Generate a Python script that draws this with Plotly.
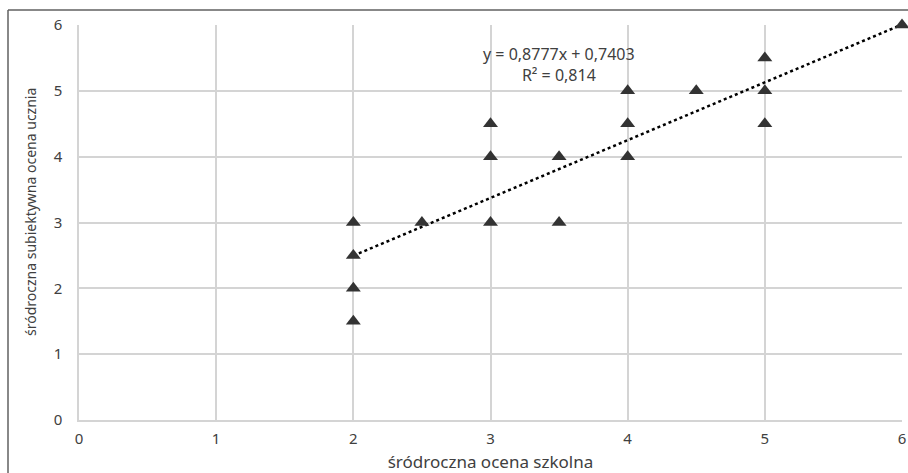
import plotly.graph_objects as go

school_grade = [2, 2, 2, 2, 2.5, 3, 3, 3, 3.5, 3.5, 4, 4, 4, 4.5, 5, 5, 5, 6]
subjective_grade = [3, 2.5, 2, 1.5, 3, 4.5, 4, 3, 4, 3, 5, 4.5, 4, 5, 5.5, 5, 4.5, 6]
slope = 0.8777
intercept = 0.7403
r_squared = 0.814
x_ticks = [0, 1, 2, 3, 4, 5, 6]
y_ticks = [0, 1, 2, 3, 4, 5, 6]
x_title = "śródroczna ocena szkolna"
y_title = "śródroczna subiektywna ocena ucznia"

font_family = "Noto Sans"
text_color = "#404040"
grid_color = "#d4d4d4"

W, H = 908, 473
ML, MR, MT, MB = 79, 6, 25, 53
PW, PH = W - ML - MR, H - MT - MB

x_min, x_max = min(school_grade), max(school_grade)
trend_x = [x_min, x_max]
trend_y = [slope * v + intercept for v in trend_x]

fig = go.Figure()
fig.add_trace(go.Scatter(
    x=trend_x, y=trend_y, mode="lines",
    line=dict(color="black", width=2.5, dash="dot"),
    hoverinfo="skip", showlegend=False, cliponaxis=False,
))
fig.add_trace(go.Scatter(
    x=school_grade, y=subjective_grade, mode="markers",
    marker=dict(symbol="triangle-up", size=13, color="#333333"),
    showlegend=False, cliponaxis=False,
))

fmt = lambda v, d: f"{v:.{d}f}".replace(".", ",")
eq_text = f"y = {fmt(slope, 4)}x + {fmt(intercept, 4)}<br>R² = {fmt(r_squared, 3)}"
fig.add_annotation(
    x=3.5, y=5.4, xref="x", yref="y", text=eq_text, showarrow=False,
    font=dict(family=font_family, size=16, color=text_color), align="center",
)

# y-axis title placed as an annotation (slightly above plot centre, as in reference)
fig.add_annotation(
    x=-(ML - 30) / PW, y=(PH + MT - 212) / PH, xref="paper", yref="paper",
    text=y_title, textangle=-90, showarrow=False, xanchor="center", yanchor="middle",
    font=dict(family=font_family, size=14, color=text_color),
)

# outer chart frame (left and top edges visible)
fx = -(ML - 8) / PW
fy = (PH + MT - 10) / PH
fig.add_shape(type="line", xref="paper", yref="paper",
              x0=fx, x1=fx, y0=fy, y1=-MB / PH - 0.05,
              line=dict(color="#606060", width=1.5))
fig.add_shape(type="line", xref="paper", yref="paper",
              x0=fx, x1=1 + MR / PW + 0.05, y0=fy, y1=fy,
              line=dict(color="#606060", width=1.5))

fig.update_layout(
    width=W, height=H,
    margin=dict(l=ML, r=MR, t=MT, b=MB),
    paper_bgcolor="white", plot_bgcolor="white",
    font=dict(family=font_family, size=15, color=text_color),
    xaxis=dict(
        range=[0, 6], tickvals=x_ticks, ticktext=[str(v) for v in x_ticks],
        showgrid=True, gridcolor=grid_color, gridwidth=1.5,
        showline=True, linecolor=grid_color, linewidth=1.5, zeroline=False,
        ticks="", ticklabelstandoff=4, automargin=False, ticklabeloverflow="allow",
        title=dict(text=x_title, standoff=10,
                   font=dict(family=font_family, size=17, color=text_color)),
    ),
    yaxis=dict(
        range=[0, 6], tickvals=y_ticks, ticktext=[str(v) for v in y_ticks],
        showgrid=True, gridcolor=grid_color, gridwidth=1.5,
        showline=True, linecolor=grid_color, linewidth=1.5, zeroline=False,
        ticks="", ticklabelstandoff=12, automargin=False, ticklabeloverflow="allow",
    ),
)

fig.write_html(
    "out.html",
    config={"displayModeBar": False},
    post_script="document.body.style.margin='0';document.body.style.overflow='hidden';",
)
